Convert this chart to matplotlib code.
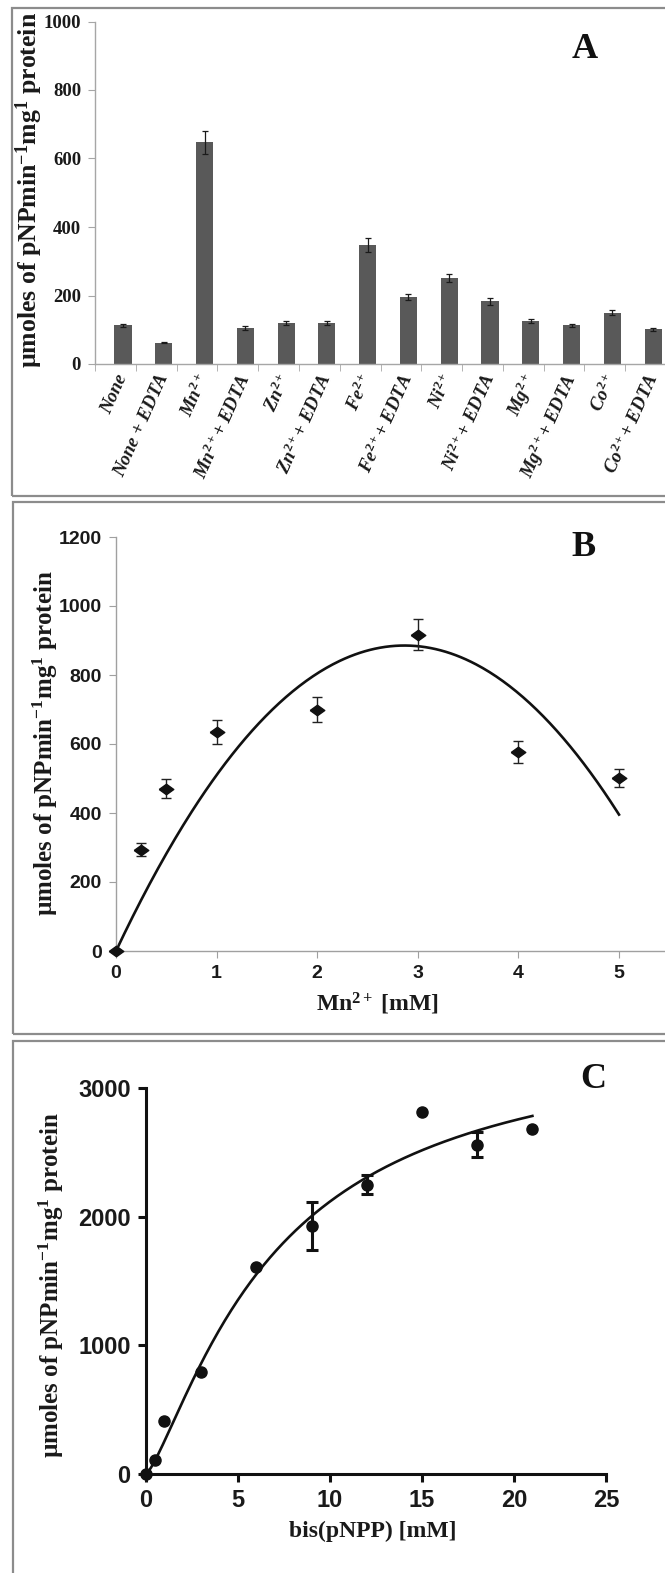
import numpy as np
import matplotlib
matplotlib.use("Agg")
import matplotlib.pyplot as plt
import matplotlib.font_manager as fm
from matplotlib.patches import Rectangle

# ---------------- data ----------------
# Panel A: metal ions
catA = ["None", "None + EDTA", "Mn$^{\\mathit{2+}}$", "Mn$^{\\mathit{2+}}$+ EDTA",
        "Zn$^{\\mathit{2+}}$", "Zn$^{\\mathit{2+}}$+ EDTA", "Fe$^{\\mathit{2+}}$",
        "Fe$^{\\mathit{2+}}$+ EDTA", "Ni$^{\\mathit{2+}}$", "Ni$^{\\mathit{2+}}$+ EDTA",
        "Mg$^{\\mathit{2+}}$", "Mg$^{\\mathit{2+}}$+ EDTA", "Co$^{\\mathit{2+}}$",
        "Co$^{\\mathit{2+}}$+ EDTA"]
valA = [113, 62, 647, 104, 121, 121, 348, 196, 251, 183, 125, 113, 150, 101]
errA = [4, 2, 33, 6, 6, 6, 20, 9, 13, 10, 6, 5, 7, 5]
yticksA = [0, 200, 400, 600, 800, 1000]

# Panel B: Mn2+ concentration
xB = [0, 0.25, 0.5, 1, 2, 3, 4, 5]
yB = [0, 293, 471, 636, 700, 917, 578, 501]
eB = [0, 19, 27, 35, 37, 45, 32, 27]
xticksB = [0, 1, 2, 3, 4, 5]
yticksB = [0, 200, 400, 600, 800, 1000, 1200]

# Panel C: bis(pNPP) concentration
xC = [0, 0.5, 1, 3, 6, 9, 12, 15, 18, 21]
yC = [0, 105, 411, 789, 1611, 1930, 2250, 2811, 2560, 2681]
eC = [0, 0, 0, 0, 0, 187, 77, 0, 100, 0]
xticksC = [0, 5, 10, 15, 20, 25]
yticksC = [0, 1000, 2000, 3000]
# fitted saturation curve parameters (Hill form)
VMAX, K_HALF, HILL_N = 3450.0, 7.0, 1.3

# ---------------- fonts ----------------
def has_font(name):
    try:
        fm.findfont(fm.FontProperties(family=name), fallback_to_default=False)
        return True
    except Exception:
        return False

SERIF = "Liberation Serif"
NARROW = "Liberation Sans Narrow" if has_font("Liberation Sans Narrow") else "Liberation Sans"

plt.rcParams["font.family"] = [SERIF, "DejaVu Serif"]
plt.rcParams["mathtext.fontset"] = "custom"
plt.rcParams["mathtext.rm"] = "Liberation Serif:bold"
plt.rcParams["mathtext.bf"] = "Liberation Serif:bold"
plt.rcParams["mathtext.it"] = "Liberation Serif:bold:italic"

W, H = 665, 1573
fig = plt.figure(figsize=(W / 100, H / 100), dpi=100)
fig.patch.set_facecolor("white")

def fx(px):
    return px / W

def fy(py):
    return 1 - py / H

FRAME = "#8c8c8c"
for (x0, y0, y1) in [(12, 8, 496), (13, 502, 1034), (13, 1041, 1590)]:
    fig.add_artist(Rectangle((fx(x0), fy(y1)), (700 - x0) / W, (y1 - y0) / H,
                             transform=fig.transFigure, fill=False,
                             edgecolor=FRAME, lw=1.6, clip_on=False))

ylab = "µmoles of pNPmin$^{\\mathbf{-1}}$mg$^{\\mathbf{1}}$ protein"

# ---------------- Panel A ----------------
GA = "#a6a6a6"
axA = fig.add_axes([fx(95), fy(364), 571 / W, (364 - 21.5) / H])
xA = np.arange(len(catA))
axA.bar(xA, valA, width=0.42, color="#595959", yerr=errA, capsize=2.2,
        error_kw=dict(ecolor="#1a1a1a", elinewidth=0.9, capthick=0.9))
off = 0.686
axA.set_xlim(-off, len(catA) - off)
axA.set_ylim(0, 1000)
axA.set_xticks(xA)
axA.set_xticklabels(catA, rotation=66, ha="right", va="center",
                    rotation_mode="anchor", family=SERIF, weight="bold",
                    style="italic", fontsize=13.5, color="#1a1a1a")
axA.set_xticks(np.arange(len(catA) + 1) - off, minor=True)
axA.tick_params(axis="x", which="major", length=0, pad=8)
axA.tick_params(axis="x", which="minor", length=5, color=GA, direction="out")
axA.set_yticks(yticksA)
axA.set_yticklabels([str(v) for v in yticksA], family=SERIF, weight="bold",
                    fontsize=13.5, color="#1a1a1a")
axA.tick_params(axis="y", length=5, color=GA, direction="out", pad=5)
for s in ["top", "right"]:
    axA.spines[s].set_visible(False)
for s in ["left", "bottom"]:
    axA.spines[s].set_color(GA)
    axA.spines[s].set_linewidth(1.0)
fig.text(fx(29), fy(190), ylab, rotation=90, ha="center", va="center",
         family=SERIF, weight="bold", fontsize=18.5, color="#1a1a1a")
fig.text(fx(585), fy(50), "A", ha="center", va="center", family=SERIF,
         weight="bold", fontsize=26, color="#111111")

# ---------------- Panel B ----------------
GB = "#a0a0a0"
axB = fig.add_axes([fx(116), fy(951), 5.46 * 100.6 / W, (951 - 537) / H])
xBa = np.asarray(xB, float)
yBa = np.asarray(yB, float)
M = np.column_stack([xBa, xBa ** 2])
coef = np.linalg.lstsq(M, yBa, rcond=None)[0]
xs = np.linspace(0, 5, 300)
axB.plot(xs, coef[0] * xs + coef[1] * xs ** 2, color="#111111", lw=1.9, zorder=2)
axB.errorbar(xB[1:], yB[1:], yerr=eB[1:], fmt="none", ecolor="#222222",
             elinewidth=1.0, capsize=3.5, capthick=1.0, zorder=3)
diamond = [(-1, 0), (0, 0.72), (1, 0), (0, -0.72), (-1, 0)]
axB.plot(xB, yB, ls="none", marker=diamond, ms=10.5, color="#111111",
         clip_on=False, zorder=4)
axB.set_xlim(0, 5.46)
axB.set_ylim(0, 1200)
axB.set_xticks(xticksB)
axB.set_xticklabels([str(v) for v in xticksB], family=NARROW, weight="bold",
                    fontsize=14, color="#1a1a1a")
axB.set_yticks(yticksB)
axB.set_yticklabels([str(v) for v in yticksB], family=NARROW, weight="bold",
                    fontsize=14, color="#1a1a1a")
axB.tick_params(axis="both", length=5, color=GB, direction="out", pad=5)
for s in ["top", "right"]:
    axB.spines[s].set_visible(False)
for s in ["left", "bottom"]:
    axB.spines[s].set_color(GB)
    axB.spines[s].set_linewidth(1.0)
fig.text(fx(45), fy(743), ylab, rotation=90, ha="center", va="center",
         family=SERIF, weight="bold", fontsize=18, color="#1a1a1a")
fig.text(fx(377), fy(1004), "Mn$^{\\mathbf{2+}}$ [mM]", ha="center", va="center",
         family=SERIF, weight="bold", fontsize=17, color="#1a1a1a")
fig.text(fx(584), fy(547), "B", ha="center", va="center", family=SERIF,
         weight="bold", fontsize=26, color="#111111")

# ---------------- Panel C ----------------
axC = fig.add_axes([fx(146), fy(1474), 460 / W, (1474 - 1088) / H])
xc = np.linspace(0, 21, 300)
axC.plot(xc, VMAX * xc ** HILL_N / (K_HALF ** HILL_N + xc ** HILL_N),
         color="#111111", lw=1.9, zorder=2)
idx = [i for i, e in enumerate(eC) if e > 0]
axC.errorbar([xC[i] for i in idx], [yC[i] for i in idx], yerr=[eC[i] for i in idx],
             fmt="none", ecolor="#111111", elinewidth=2.2, capsize=4.5,
             capthick=2.2, zorder=3)
axC.plot(xC, yC, ls="none", marker="o", ms=8, color="#111111", clip_on=False,
         zorder=4)
axC.set_xlim(0, 25)
axC.set_ylim(0, 3000)
axC.set_xticks(xticksC)
axC.set_xticklabels([str(v) for v in xticksC], family=NARROW, weight="bold",
                    fontsize=17, color="#1a1a1a")
axC.set_yticks(yticksC)
axC.set_yticklabels([str(v) for v in yticksC], family=NARROW, weight="bold",
                    fontsize=17, color="#1a1a1a")
axC.tick_params(axis="both", length=6, width=2.2, color="#111111",
                direction="out", pad=5)
for s in ["top", "right"]:
    axC.spines[s].set_visible(False)
for s in ["left", "bottom"]:
    axC.spines[s].set_color("#111111")
    axC.spines[s].set_linewidth(2.2)
fig.text(fx(51), fy(1285), ylab, rotation=90, ha="center", va="center",
         family=SERIF, weight="bold", fontsize=18, color="#1a1a1a")
fig.text(fx(373), fy(1531), "bis(pNPP) [mM]", ha="center", va="center",
         family=SERIF, weight="bold", fontsize=17, color="#1a1a1a")
fig.text(fx(593), fy(1080), "C", ha="center", va="center", family=SERIF,
         weight="bold", fontsize=26, color="#111111")

fig.savefig("out.png", dpi=100, facecolor="white")
